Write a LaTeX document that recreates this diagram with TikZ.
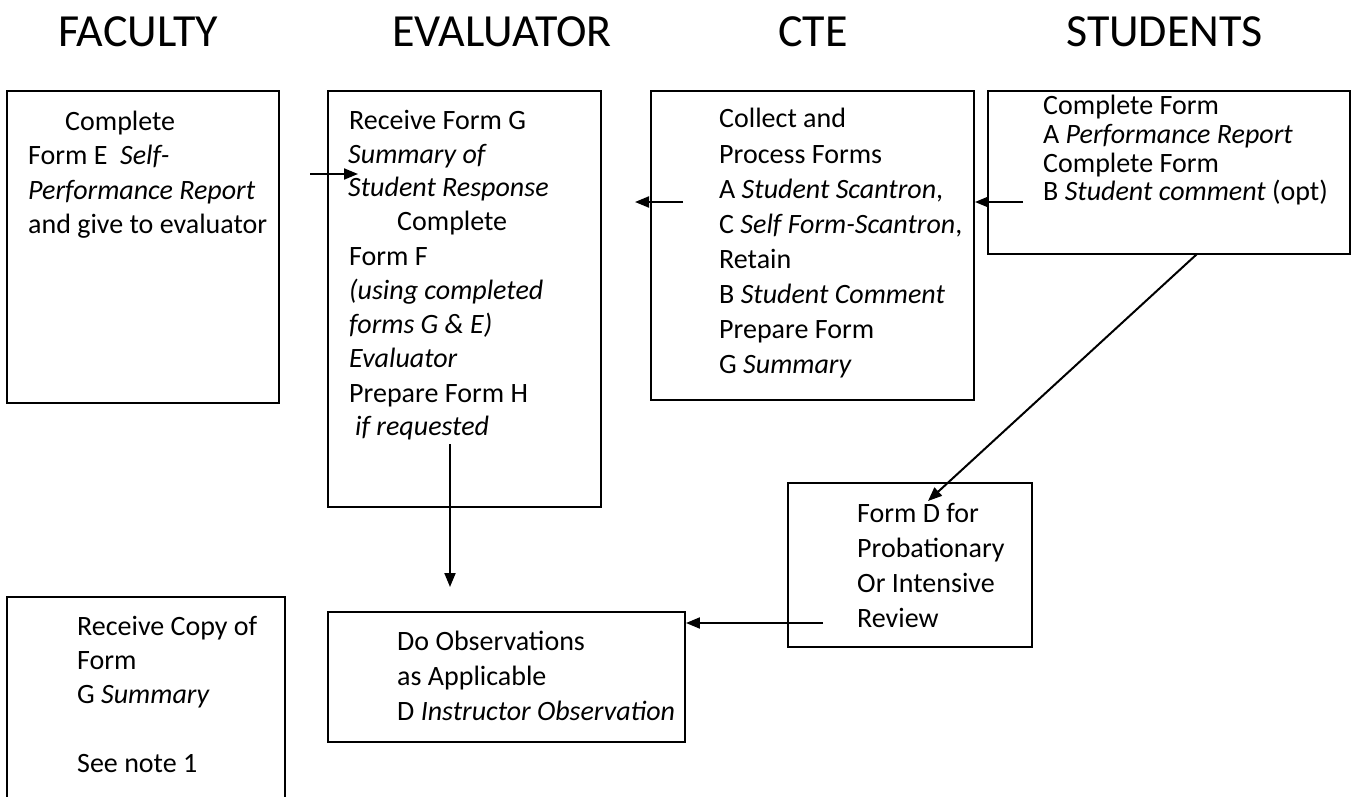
\documentclass[tikz,border=0pt]{standalone}
\usepackage{fontspec}
\setmainfont{Carlito}
\usetikzlibrary{arrows.meta}
\tikzset{
  box/.style={draw, line width=1.9pt, inner sep=0pt},
  txt/.style={anchor=base west, inner sep=0pt, font=\fontsize{28}{34}\selectfont},
  head/.style={anchor=base west, inner sep=0pt, font=\fontsize{46}{55}\selectfont},
  arr/.style={line width=2pt, -{Triangle[length=14pt,width=11pt]}},
}
\begin{document}
\begin{tikzpicture}[x=1pt,y=-1pt]
\clip (0,0) rectangle (1356,797);
\useasboundingbox (0,0) rectangle (1356,797);
% headers
\node[head] (hfac) at (58,47) {FACULTY};
\node[head] (heva) at (392,47) {EVALUATOR};
\node[head] (hcte) at (778,47) {CTE};
\node[head] (hstu) at (1066,47) {STUDENTS};
% boxes
\node[box, minimum width=272pt, minimum height=312pt] (fac1) at (143,247) {};
\node[box, minimum width=273pt, minimum height=416pt] (eva) at (464.5,299) {};
\node[box, minimum width=323pt, minimum height=309pt] (cte) at (812.5,245.5) {};
\node[box, minimum width=362pt, minimum height=163pt] (stu) at (1169,172.5) {};
\node[box, minimum width=244pt, minimum height=164pt] (frd) at (910,565) {};
\node[box, minimum width=357pt, minimum height=130pt] (obs) at (506.5,677) {};
\node[box, minimum width=278pt, minimum height=210pt] (fac2) at (146,702) {};
% faculty top
\node[txt] (f1) at (65,130) {Complete};
\node[txt] (f2) at (28,164.5) {Form E\hspace{0.45em}\textit{Self-}};
\node[txt] (f3) at (28,199) {\textit{Performance Report}};
\node[txt] (f4) at (28,233) {and give to evaluator};
% evaluator
\node[txt] (e1) at (349,129) {Receive Form G};
\node[txt] (e2) at (348,163) {\textit{Summary of}};
\node[txt] (e3) at (348,196) {\textit{Student Response}};
\node[txt] (e4) at (397,230) {Complete};
\node[txt] (e5) at (349,265) {Form F};
\node[txt] (e6) at (349,299) {\textit{(using completed}};
\node[txt] (e7) at (349,333) {\textit{forms G \& E)}};
\node[txt] (e8) at (349,367) {\textit{Evaluator}};
\node[txt] (e9) at (349,402) {Prepare Form H};
\node[txt] (e10) at (355,435) {\textit{if requested}};
% cte
\node[txt] (c1) at (719,128) {Collect and};
\node[txt] (c2) at (719,163) {Process Forms};
\node[txt] (c3) at (719,198) {A \textit{Student Scantron},};
\node[txt] (c4) at (719,233) {C \textit{Self Form-Scantron},};
\node[txt] (c5) at (719,268) {Retain};
\node[txt] (c6) at (719,303) {B \textit{Student Comment}};
\node[txt] (c7) at (719,338) {Prepare Form};
\node[txt] (c8) at (719,373) {G \textit{Summary}};
% students
\node[txt] (s1) at (1043,115) {Complete Form};
\node[txt] (s2) at (1043,143.5) {A \textit{Performance Report}};
\node[txt] (s3) at (1043,172) {Complete Form};
\node[txt] (s4) at (1043,200.5) {B \textit{Student comment} (opt)};
% form D
\node[txt] (d1) at (857,522) {Form D for};
\node[txt] (d2) at (857,557) {Probationary};
\node[txt] (d3) at (857,592) {Or Intensive};
\node[txt] (d4) at (857,627) {Review};
% observations
\node[txt] (o1) at (397,650) {Do Observations};
\node[txt] (o2) at (397,685) {as Applicable};
\node[txt] (o3) at (397,720) {D \textit{Instructor Observation}};
% faculty bottom
\node[txt] (g1) at (77,635) {Receive Copy of};
\node[txt] (g2) at (77,669) {Form};
\node[txt] (g3) at (77,703) {G \textit{Summary}};
\node[txt] (g4) at (77,772) {See note 1};
% connectors
\coordinate (a1s) at (310,174);
\coordinate (a1e) at (358,174);
\draw[arr] (a1s) -- (a1e);
\coordinate (a2s) at (683,202);
\coordinate (a2e) at (635,202);
\draw[arr] (a2s) -- (a2e);
\coordinate (a3s) at (1023,202);
\draw[arr] (a3s) -- (cte.east |- a3s);
\coordinate (a4s) at (1197,254);
\coordinate (a4e) at (928,501);
\draw[arr] (a4s) -- (a4e);
\coordinate (a5s) at (450,444);
\coordinate (a5e) at (450,587);
\draw[arr] (a5s) -- (a5e);
\coordinate (a6s) at (823,623);
\draw[arr] (a6s) -- (obs.east |- a6s);
\end{tikzpicture}
\end{document}
